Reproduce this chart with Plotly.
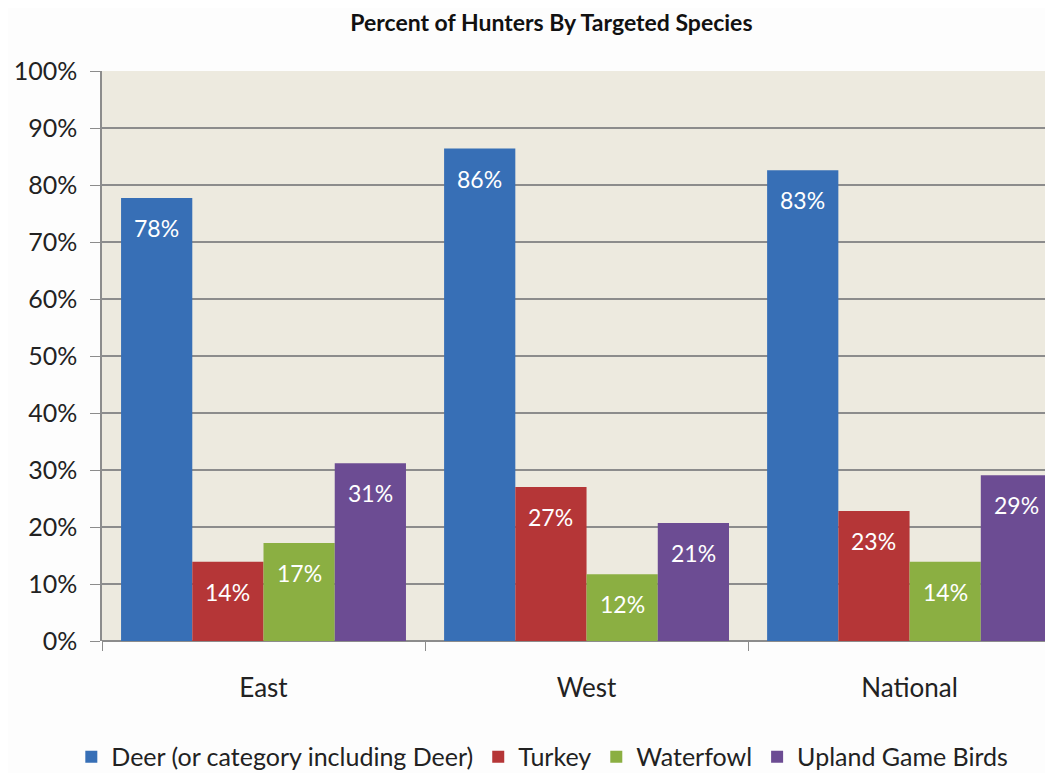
import plotly.graph_objects as go

regions = ["East", "West", "National"]
series_names = ["Deer (or category including Deer)", "Turkey", "Waterfowl", "Upland Game Birds"]
deer = [77.7, 86.4, 82.6]
turkey = [13.9, 27.0, 22.8]
waterfowl = [17.2, 11.7, 13.9]
upland = [31.2, 20.7, 29.1]
colors = ["#376FB6", "#B53637", "#8BAF42", "#6C4C93"]
y_ticks = [0, 10, 20, 30, 40, 50, 60, 70, 80, 90, 100]
y_tick_labels = ["0%", "10%", "20%", "30%", "40%", "50%", "60%", "70%", "80%", "90%", "100%"]

FONT = "Lato, 'Open Sans', sans-serif"

# page has an 8px body margin, so the figure is sized to fill the rest of the window
W, H = 1045, 765
ML, MR, MT, MB = 94, 0, 63, 132
X_RANGE = [-0.5, 2.444]
BARGAP = 0.118

all_series = [deer, turkey, waterfowl, upland]

fig = go.Figure()
for name, vals, col in zip(series_names, all_series, colors):
    fig.add_trace(go.Bar(
        x=regions, y=vals, name=name,
        marker=dict(color=col, line=dict(width=0)),
    ))

# data labels, placed inside the top of each bar
cat_px = (W - ML - MR) / (X_RANGE[1] - X_RANGE[0])
bar_px = cat_px * (1 - BARGAP) / len(all_series)
n = len(all_series)
for i, vals in enumerate(all_series):
    for reg, v in zip(regions, vals):
        fig.add_annotation(
            x=reg, y=v, xref="x", yref="y", text=f"{v:.0f}%", showarrow=False,
            xshift=(i - (n - 1) / 2) * bar_px, yshift=-30, yanchor="middle",
            font=dict(color="white", size=23, family=FONT),
        )

fig.update_layout(
    width=W, height=H,
    barmode="group", bargap=BARGAP, bargroupgap=0,
    paper_bgcolor="#FDFDFD", plot_bgcolor="#EDEADF",
    margin=dict(l=ML, r=MR, t=MT, b=MB, autoexpand=False),
    font=dict(family=FONT, color="#222222"),
    title=dict(text="<b>Percent of Hunters By Targeted Species</b>",
               x=0.52, xanchor="center", y=(H - 15) / H, yanchor="middle",
               font=dict(size=23, family=FONT, color="#111111")),
    showlegend=True,
    legend=dict(orientation="h", x=0.463, xanchor="center", y=-0.2035, yanchor="middle",
                font=dict(size=25, family=FONT, color="#222222"),
                traceorder="normal", itemwidth=30),
    xaxis=dict(range=X_RANGE, tickson="boundaries", ticks="outside", ticklen=9,
               tickcolor="#8C8C8C", showgrid=False, showline=False,
               tickfont=dict(size=26, family=FONT, color="#222222"), ticklabelstandoff=29),
    yaxis=dict(range=[0, 100], tickmode="array", tickvals=y_ticks, ticktext=y_tick_labels,
               showgrid=True, gridcolor="#8C8C8C", gridwidth=1.5,
               showline=True, linecolor="#8C8C8C", linewidth=1.5,
               ticks="outside", ticklen=10, tickcolor="#8C8C8C",
               zeroline=True, zerolinecolor="#8C8C8C", zerolinewidth=1.5,
               tickfont=dict(size=25, family=FONT, color="#222222"), ticklabelstandoff=8),
)

fig.write_html("out.html")
